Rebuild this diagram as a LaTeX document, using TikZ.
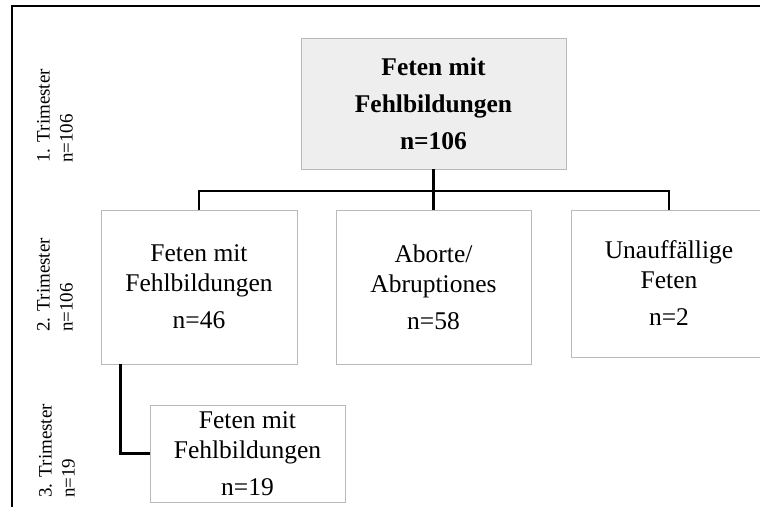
\documentclass[tikz,border=0pt]{standalone}
\usepackage{fontspec}
\setmainfont{Liberation Serif}
\usetikzlibrary{shadows, positioning}

\begin{document}
\begin{tikzpicture}[x=1pt, y=-1pt,
    box/.style={draw=gray!55, fill=white, line width=0.8pt, inner sep=0pt,
      align=center, font=\fontsize{25.5}{30}\selectfont,
      drop shadow={shadow xshift=1.2pt, shadow yshift=-1.2pt, fill=black!35, opacity=0.6}},
    topbox/.style={box, fill=gray!13, font=\bfseries\fontsize{25.5}{37}\selectfont},
    trilabel/.style={rotate=90, anchor=west, align=left, inner sep=0pt,
      font=\fontsize{19}{23}\selectfont},
    link/.style={line width=2.6pt}]
        \useasboundingbox (0,0) rectangle (760,506);

        % Frame
        \draw[line width=1.8pt] (12,510) -- (12,6) -- (765,6);

        % Trimester labels
        \node[trilabel] (t1) at (55,163) {1. Trimester\\n=106};
        \node[trilabel] (t2) at (55,332) {2. Trimester\\n=106};
        \node[trilabel] (t3) at (57,498) {3. Trimester\\n=19};

        % Boxes
        \node[topbox, minimum width=265pt, minimum height=131pt] (top) at (433.5,103.5)
        {Feten mit\\Fehlbildungen\\n=106};
        \node[box, minimum width=196pt, minimum height=154pt] (fm46) at (199,287)
        {Feten mit\\Fehlbildungen\\[7pt]n=46};
        \node[box, minimum width=195pt, minimum height=154pt] (abort) at (433.5,287)
        {Aborte/\\Abruptiones\\[7pt]n=58};
        \node[box, minimum width=196pt, minimum height=147pt] (unauf) at (669,283.5)
        {Unauff\"allige\\Feten\\[7pt]n=2};
        \node[box, minimum width=195pt, minimum height=97pt] (fm19) at (247.5,453.5)
        {Feten mit\\Fehlbildungen\\[7pt]n=19};

        % Connectors
        \coordinate (split) at (434,191);
        \draw[link] (top.south) -- (abort.north);
        \draw[link] (fm46.north) |- (split) -| (unauf.north);
        \draw[link] ([xshift=20pt]fm46.south west) |- (fm19.west);
    \end{tikzpicture}
\end{document}
